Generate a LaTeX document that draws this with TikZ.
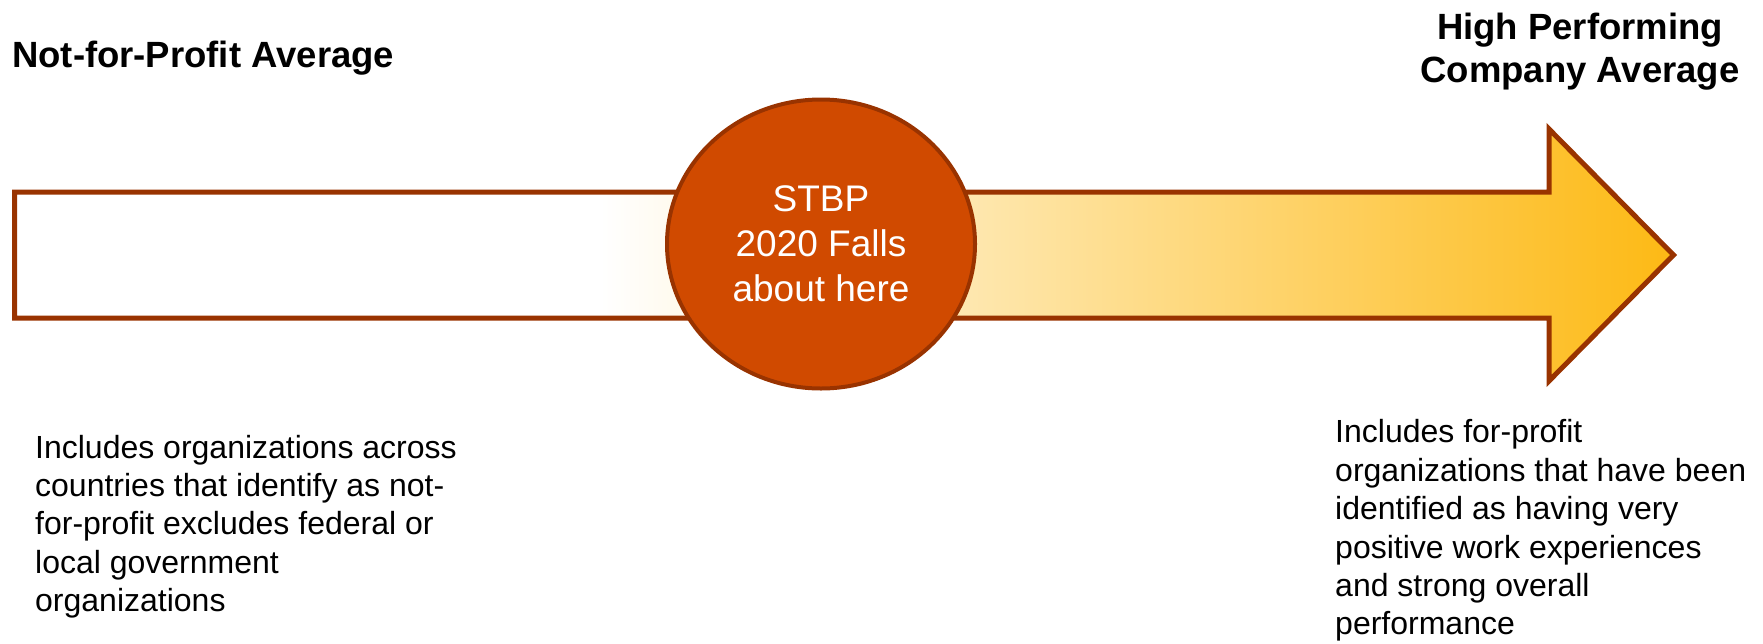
\documentclass[tikz,border=0pt]{standalone}
\usepackage{fontspec}
\setmainfont{Liberation Sans}
\usepackage{xcolor}
\usetikzlibrary{shapes.geometric}
\definecolor{edgebrown}{RGB}{153,51,0}
\definecolor{dotorange}{RGB}{208,74,0}
\definecolor{tipgold}{RGB}{253,185,19}
\newcommand{\arrowoutline}{(14.5,192)--(1549,192)--(1549,129)--(1673.5,255)--(1549,381)--(1549,318)--(14.5,318)--cycle}

\begin{document}
\begin{tikzpicture}[x=1pt,y=-1pt,every node/.style={inner sep=0pt,text=black},
  heading/.style={font=\fontsize{36.5}{43}\selectfont\bfseries},
  note/.style={font=\fontsize{32}{38.4}\selectfont,align=left,anchor=north west},
  marker/.style={ellipse,draw=edgebrown,line width=4pt,fill=dotorange,text=white,align=center,
    minimum width=308pt,minimum height=289pt,font=\fontsize{37}{45}\selectfont}]
\useasboundingbox (0,0) rectangle (1763,643);
\fill[white] \arrowoutline;
\begin{scope}
\clip \arrowoutline;
\shade[left color=white,right color=tipgold] (600,120) rectangle (1680,390);
\end{scope}
\draw[edgebrown,line width=5pt,line join=miter] \arrowoutline;
\node[marker] (stbp) at (821,244) {STBP\\2020 Falls\\about here};
\node[heading,anchor=base west] (npavg) at (12,67) {Not-for-Profit Average};
\node[heading,align=center,anchor=north] (hpavg) at (1580,12.5) {High Performing\\Company Average};
\node[note] (npnote) at (35,434.7) {Includes organizations across\\countries that identify as not-\\for-profit excludes federal or\\local government\\organizations};
\node[note] (hpnote) at (1335,419.6) {Includes for-profit\\organizations that have been\\identified as having very\\positive work experiences\\and strong overall\\performance};
\end{tikzpicture}
\end{document}
